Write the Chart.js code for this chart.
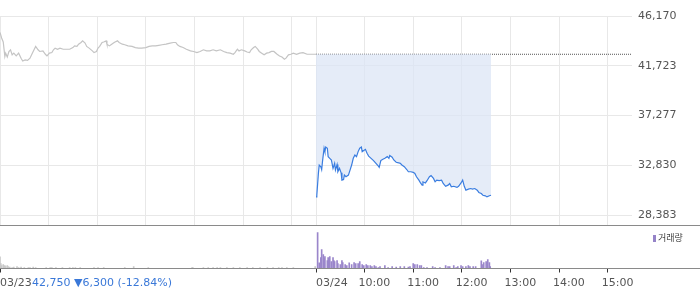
<!DOCTYPE html>
<html><head><meta charset="utf-8">
<script src="https://cdn.jsdelivr.net/npm/chart.js@4.4.1/dist/chart.umd.min.js"></script>
<style>
html,body{margin:0;padding:0;background:#fff;}
#wrap{position:relative;width:700px;height:289px;overflow:hidden;font-family:'DejaVu Sans',sans-serif;}
#pc{position:absolute;left:0;top:0;}
#vc{position:absolute;left:0;top:226px;}
#quote{position:absolute;left:32px;top:276px;font-size:11px;line-height:14px;color:#3a78d8;white-space:nowrap;}
#legend{position:absolute;left:653px;top:232px;font-size:9px;line-height:12px;color:#444;font-family:'Noto Sans CJK KR',sans-serif;white-space:nowrap;}
#legend i{display:inline-block;width:3px;height:7px;background:#9583c8;margin-right:2px;vertical-align:-1px;}
</style></head>
<body><div id="wrap">
<canvas id="pc" width="700" height="227" style="width:700px;height:227px"></canvas>
<canvas id="vc" width="700" height="63" style="width:700px;height:63px"></canvas>
<div id="quote"></div>
<div id="legend"><i></i><span id="legtxt"></span></div>
</div>
<script>
// ---- data ----
const day1Times = ["09:00","09:02","09:04","09:06","09:07","09:09","09:11","09:13","09:15","09:17",
"09:20","09:23","09:26","09:28","09:31","09:34","09:37","09:39","09:42","09:44",
"09:47","09:49","09:53","09:56","09:58","10:01","10:04","10:06","10:08","10:11",
"10:14","10:18","10:22","10:26","10:30","10:32","10:35","10:37","10:40","10:42",
"10:45","10:47","10:50","10:54","10:56","10:59","11:01","11:03","11:06","11:08",
"11:11","11:12","11:15","11:17","11:20","11:22","11:25","11:27","11:31","11:34",
"11:38","11:43","11:47","11:51","11:55","12:00","12:04","12:08","12:12","12:16",
"12:20","12:25","12:30","12:34","12:37","12:39","12:42","12:46","12:50","12:55",
"12:59","13:03","13:07","13:11","13:15","13:19","13:23","13:27","13:32","13:36",
"13:40","13:44","13:48","13:50","13:53","13:55","13:58","14:02","14:05","14:08",
"14:10","14:13","14:15","14:18","14:20","14:23","14:26","14:29","14:32","14:35",
"14:38","14:42","14:45","14:48","14:51","14:53","14:56","14:59","15:02","15:06",
"15:10","15:14","15:19","15:23","15:27","15:30"];
const day1Prices = [44700,44200,43850,42550,42850,42500,43000,43150,42700,42850,
42600,42850,42400,42150,42250,42200,42400,42700,43150,43450,
43150,43000,43050,42750,42600,42850,42900,43150,43300,43200,
43300,43200,43200,43200,43350,43500,43450,43650,43800,43950,
43750,43450,43300,43050,42900,43000,43300,43450,43800,43850,
43950,43650,43500,43600,43750,43850,43950,43800,43650,43600,
43500,43450,43350,43300,43300,43350,43450,43500,43500,43550,
43600,43650,43750,43800,43800,43600,43450,43350,43200,43050,
43000,42900,43000,43150,43050,43050,43150,43050,43150,43000,
42900,42850,42750,42900,43200,43050,43150,43050,42950,42900,
43150,43350,43450,43200,43000,42850,42700,42850,42900,43000,
43000,42750,42600,42500,42300,42400,42700,42750,42850,42750,
42850,42900,42750,42750,42750,42750];

const day2Times = ["09:00","09:01","09:03","09:04","09:06","09:07","09:08","09:10","09:11","09:12",
"09:14","09:15","09:17","09:19","09:21","09:23","09:24","09:26","09:27","09:29",
"09:31","09:32","09:34","09:35","09:37","09:40","09:42","09:44","09:46","09:48",
"09:50","09:52","09:54","09:56","09:57","09:59","10:01","10:03","10:05","10:08",
"10:11","10:14","10:17","10:18","10:20","10:22","10:25","10:28","10:30","10:31",
"10:34","10:36","10:39","10:42","10:44","10:46","10:49","10:52","10:54","10:57",
"11:00","11:02","11:04","11:07","11:09","11:11","11:12","11:15","11:17","11:20",
"11:22","11:25","11:27","11:29","11:32","11:35","11:37","11:40","11:43","11:45",
"11:47","11:50","11:54","11:56","11:59","12:01","12:03","12:05","12:08","12:11",
"12:13","12:16","12:19","12:21","12:24","12:26","12:29","12:31","12:34","12:36"];
const day2Prices = [30000,30150,32150,32850,32700,32450,33150,34350,34050,34450,
34350,33600,33450,33300,32550,33000,32400,32900,32250,32550,
32150,31500,31550,31950,31800,31950,32400,32850,33450,33750,
33600,34050,34350,34450,34050,34150,34250,33900,33650,33450,
33250,33000,32750,32650,33250,33350,33450,33600,33450,33700,
33550,33300,33100,33050,33000,32850,32700,32450,32250,32250,
32200,32100,31800,31500,31250,31050,31350,31250,31450,31800,
31900,31650,31350,31500,31450,31500,31200,30950,31050,31200,
30900,30950,30850,30950,31250,31500,30950,30600,30700,30750,
30700,30750,30600,30400,30300,30150,30100,30000,30100,30150];

const day1VolTimes = ["09:00","09:01","09:02","09:04","09:06","09:07","09:09","09:10","09:12","09:15",
"09:17","09:21","09:23","09:26","09:30","09:35","09:37","09:41","09:44","09:57",
"10:02","10:04","10:09","10:17","10:26","10:30","10:33","10:39","10:56","11:01",
"11:08","11:34","11:45","12:03","12:57","12:58","13:11","13:17","13:23","13:28",
"13:32","13:40","13:48","13:56","14:05","14:12","14:21","14:30","14:37","14:44",
"14:48","14:54","15:02","15:29"];
const day1Volumes = [116,50,30,40,30,20,30,20,15,10,
15,20,10,15,10,10,10,15,10,10,
10,10,10,10,10,10,10,10,10,10,
10,10,20,10,10,10,10,10,10,10,
10,10,10,10,10,10,10,10,10,10,
10,10,10,20];

const day2VolTimes = ["09:02","09:04","09:06","09:07","09:09","09:10","09:11","09:14","09:15","09:16",
"09:17","09:19","09:21","09:22","09:23","09:26","09:27","09:30","09:32","09:33",
"09:36","09:38","09:41","09:44","09:47","09:49","09:52","09:54","09:57","09:59",
"10:02","10:04","10:07","10:09","10:12","10:14","10:17","10:19","10:25","10:29",
"10:34","10:39","10:44","10:49","10:54","10:56","11:00","11:02","11:05","11:08",
"11:10","11:13","11:17","11:24","11:27","11:33","11:40","11:43","11:45","11:50",
"11:53","11:55","11:59","12:01","12:05","12:08","12:10","12:14","12:17","12:24",
"12:25","12:27","12:30","12:32","12:34","12:35"];
const day2Volumes = [360,56,110,190,140,100,120,80,110,80,
120,70,110,80,70,80,50,40,80,60,
40,30,56,40,60,50,50,70,40,30,
40,30,30,20,30,20,10,20,30,10,
20,15,20,20,15,20,50,40,40,30,
30,10,10,20,10,10,30,20,20,30,
10,20,30,20,20,30,20,20,20,76,
40,60,70,90,60,20];

const lastClose = 42750;
const priceTicks = [28383, 32830, 37277, 41723, 46170];
const hourTicks = ["09:00","10:00","11:00","12:00","13:00","14:00","15:00"];
const dateLabels = ["03/23","03/24"];
const timeLabels = ["10:00","11:00","12:00","13:00","14:00","15:00"];
const quoteText = "42,750 ▼6,300 (-12.84%)";
const volumeLabel = "거래량";
const priceMin = 27490, priceMax = 46170, volumeMax = 425;

// ---- helpers ----
const SESSION_HOURS = 6.5;
function toX(day, t){ const p = t.split(':').map(Number); return (day-1)*SESSION_HOURS + (p[0]*60+p[1]-540)/60; }
function pts(day, times, vals){ return times.map((t,i)=>({x:toX(day,t), y:vals[i]})); }

document.getElementById('quote').textContent = quoteText;
document.getElementById('legtxt').textContent = volumeLabel;

const gridX = hourTicks.map(t=>toX(1,t)).concat(hourTicks.map(t=>toX(2,t)));
const endX = toX(2,"15:30");
const dateTickX = [toX(1,"09:00"), toX(2,"09:00")];
const timeTickX = timeLabels.map(t=>toX(2,t));

Chart.defaults.font.family = "'DejaVu Sans', sans-serif";
Chart.defaults.font.size = 11;

const fullLine = (getY) => ({
  id:'fullLine',
  afterDraw(chart){ const c=chart.ctx; c.save(); c.fillStyle='#8a8a8a'; c.fillRect(0, getY(chart), chart.width, 1); c.restore(); }
});

new Chart(document.getElementById('pc'), {
  type:'line',
  data:{datasets:[
    {data:pts(2,day2Times,day2Prices), borderColor:'#3a7de0', borderWidth:1.2, pointRadius:0, tension:0,
     fill:{value:lastClose}, backgroundColor:'rgba(220,230,246,0.75)'},
    {data:pts(1,day1Times,day1Prices), borderColor:'#c4c4c4', borderWidth:1.2, pointRadius:0, tension:0, fill:false},
    {data:[{x:toX(2,"09:00"),y:lastClose},{x:endX,y:lastClose}], borderColor:'#555', borderWidth:1, borderDash:[1,1], pointRadius:0, fill:false}
  ]},
  options:{
    responsive:false, animation:false,
    layout:{padding:{top:16,left:0,right:0,bottom:2}},
    plugins:{legend:{display:false}, tooltip:{enabled:false}},
    scales:{
      x:{type:'linear', min:0, max:endX, offset:false,
         afterBuildTicks:s=>{ s.ticks = gridX.map(v=>({value:v})); },
         ticks:{display:false}, grid:{color:'#e8e8e8', drawTicks:false, offset:false}, border:{display:true, color:'#8a8a8a'},
         afterFit:s=>{ s.height=0; s.paddingLeft=0; s.paddingRight=0; }},
      y:{position:'right', min:priceMin, max:priceMax,
         afterBuildTicks:s=>{ s.ticks = priceTicks.map(v=>({value:v})); },
         ticks:{color:'#555', padding:6, callback:v=>Number(v).toLocaleString('en-US')},
         grid:{color:'#e8e8e8', drawTicks:false}, border:{display:false},
         afterFit:s=>{ s.width=68; s.paddingTop=0; s.paddingBottom=0; }}
    }
  },
  plugins:[fullLine(ch=>Math.floor(ch.chartArea.bottom))]
});

// both bottom axes share the same band below the volume panel
const shareAxisBand = {
  id:'shareAxisBand',
  afterLayout(chart){
    ['x','x2'].forEach(id=>{ const s=chart.scales[id]; s.top=chart.chartArea.bottom; s.bottom=chart.height; s.height=s.bottom-s.top; });
  }
};

const tickGrid = {drawOnChartArea:false, drawTicks:true, tickLength:4, tickColor:'#333', tickWidth:1, offset:false};
new Chart(document.getElementById('vc'), {
  type:'bar',
  data:{datasets:[
    {data:pts(1,day1VolTimes,day1Volumes), backgroundColor:'#c9c9c9', barThickness:1, grouped:false},
    {data:pts(2,day2VolTimes,day2Volumes), backgroundColor:'#9a86cb', barThickness:1, grouped:false}
  ]},
  options:{
    responsive:false, animation:false,
    layout:{padding:{top:0,left:0,right:68,bottom:20.5}},
    plugins:{legend:{display:false}, tooltip:{enabled:false}},
    scales:{
      x:{type:'linear', position:'bottom', min:0, max:endX, offset:false,
         afterBuildTicks:s=>{ s.ticks = dateTickX.map(v=>({value:v})); },
         ticks:{autoSkip:false, maxRotation:0, align:'start', padding:4, color:'#555', callback:(v,i)=>dateLabels[i]},
         grid:tickGrid, border:{display:true, color:'#8a8a8a'},
         afterFit:s=>{ s.height=0; s.paddingLeft=0; s.paddingRight=0; }},
      x2:{type:'linear', position:'bottom', min:0, max:endX, offset:false,
         afterBuildTicks:s=>{ s.ticks = timeTickX.map(v=>({value:v})); },
         ticks:{autoSkip:false, maxRotation:0, align:'start', labelOffset:-6, padding:4, color:'#555', callback:(v,i)=>timeLabels[i]},
         grid:tickGrid, border:{display:false},
         afterFit:s=>{ s.height=0; s.paddingLeft=0; s.paddingRight=0; }},
      y:{display:false, min:0, max:volumeMax}
    }
  },
  plugins:[shareAxisBand, fullLine(ch=>Math.floor(ch.chartArea.bottom))]
});
</script>
</body></html>
